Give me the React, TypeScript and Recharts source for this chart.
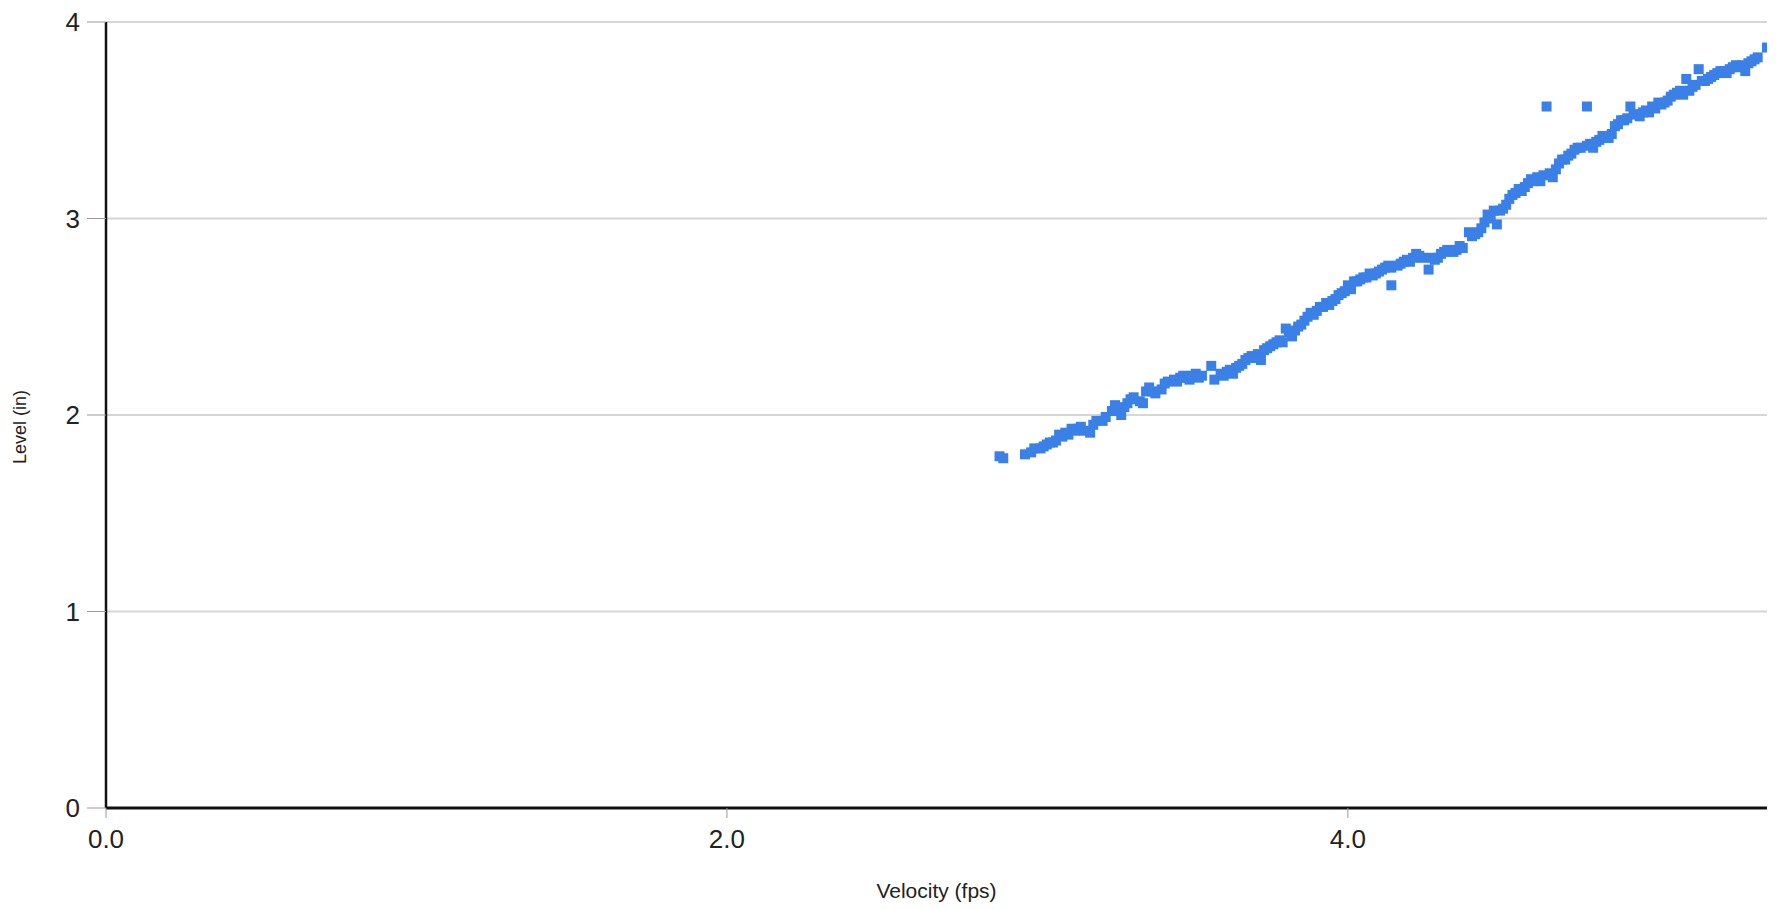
import { CartesianGrid, Label, Scatter, ScatterChart, XAxis, YAxis } from "recharts"

// velocity (fps) readings
const velocity = [
  2.878, 2.89, 2.96, 2.98, 2.99, 3.01, 3.03, 3.05, 3.06, 3.07, 3.09, 3.1, 3.11, 3.13, 3.15,
  3.17, 3.19, 3.21, 3.24, 3.25, 3.27, 3.28, 3.3, 3.33, 3.34, 3.35, 3.37, 3.4, 3.42, 3.45,
  3.46, 3.48, 3.5, 3.52, 3.53, 3.56, 3.57, 3.59, 3.61, 3.63, 3.64, 3.66, 3.67, 3.69, 3.71,
  3.72, 3.73, 3.75, 3.77, 3.79, 3.8, 3.82, 3.83, 3.85, 3.86, 3.88, 3.89, 3.91, 3.93, 3.94,
  3.96, 3.97, 3.99, 4.01, 4.02, 4.04, 4.06, 4.08, 4.1, 4.12, 4.14, 4.14, 4.16, 4.18, 4.2,
  4.22, 4.24, 4.26, 4.27, 4.29, 4.31, 4.33, 4.35, 4.37, 4.39, 4.4, 4.42, 4.44, 4.45, 4.47,
  4.48, 4.5, 4.53, 4.55, 4.57, 4.59, 4.61, 4.62, 4.64, 4.65, 4.66, 4.68, 4.7, 4.72, 4.74,
  4.77, 4.77, 4.79, 4.81, 4.83, 4.85, 4.86, 4.88, 4.9, 4.91, 4.93, 4.95, 4.97, 4.99, 5.0,
  5.02, 5.04, 5.06, 5.08, 5.09, 5.1, 5.12, 5.13, 5.15, 5.17, 5.19, 5.21, 5.23, 5.25, 5.27,
  5.28, 5.3, 5.32, 5.35,
  // second row of the band
  3.02, 3.04, 3.08, 3.12, 3.14, 3.18, 3.22, 3.26, 3.29, 3.31, 3.36, 3.38, 3.41, 3.44, 3.47,
  3.49, 3.51, 3.6, 3.62, 3.65, 3.68, 3.7, 3.74, 3.76, 3.78, 3.81, 3.84, 3.87, 3.9, 3.92,
  3.95, 3.98, 4.0, 4.03, 4.05, 4.07, 4.09, 4.11, 4.13, 4.17, 4.19, 4.21, 4.23, 4.28, 4.3,
  4.32, 4.34, 4.36, 4.41, 4.43, 4.46, 4.49, 4.51, 4.52, 4.54, 4.56, 4.58, 4.6, 4.63, 4.67,
  4.69, 4.71, 4.73, 4.75, 4.78, 4.8, 4.82, 4.84, 4.87, 4.89, 4.92, 4.94, 4.96, 4.98, 5.01,
  5.03, 5.05, 5.07, 5.11, 5.14, 5.16, 5.18, 5.2, 5.22, 5.24, 5.26, 5.29, 5.31,
]

// level (in) readings, same order as velocity
const level = [
  1.79, 1.78, 1.8, 1.81, 1.83, 1.83, 1.85, 1.86, 1.87, 1.9, 1.91, 1.9, 1.93, 1.93, 1.92,
  1.91, 1.97, 1.97, 2.02, 2.05, 2.0, 2.04, 2.08, 2.07, 2.06, 2.12, 2.12, 2.13, 2.17, 2.17,
  2.19, 2.19, 2.2, 2.19, 2.2, 2.25, 2.18, 2.21, 2.22, 2.21, 2.24, 2.26, 2.28, 2.3, 2.31,
  2.28, 2.33, 2.35, 2.37, 2.37, 2.44, 2.4, 2.43, 2.46, 2.48, 2.52, 2.51, 2.55, 2.57, 2.56,
  2.59, 2.61, 2.63, 2.64, 2.68, 2.69, 2.7, 2.71, 2.73, 2.75, 2.66, 2.75, 2.76, 2.78, 2.78,
  2.82, 2.8, 2.74, 2.8, 2.8, 2.83, 2.84, 2.84, 2.85, 2.93, 2.91, 2.93, 2.98, 3.02, 3.04,
  2.97, 3.05, 3.12, 3.15, 3.16, 3.2, 3.21, 3.19, 3.57, 3.23, 3.21, 3.28, 3.3, 3.33, 3.36,
  3.57, 3.37, 3.36, 3.4, 3.41, 3.43, 3.47, 3.5, 3.51, 3.57, 3.53, 3.54, 3.54, 3.56, 3.59,
  3.59, 3.62, 3.64, 3.63, 3.71, 3.65, 3.68, 3.76, 3.7, 3.72, 3.74, 3.75, 3.76, 3.78, 3.78,
  3.75, 3.8, 3.82, 3.87,
  // second row of the band
  1.84, 1.86, 1.89, 1.92, 1.94, 1.95, 1.99, 2.03, 2.06, 2.09, 2.14, 2.11, 2.16, 2.18, 2.2,
  2.18, 2.21, 2.2, 2.23, 2.25, 2.29, 2.29, 2.34, 2.36, 2.38, 2.42, 2.45, 2.5, 2.53, 2.55,
  2.58, 2.62, 2.66, 2.68, 2.7, 2.72, 2.72, 2.74, 2.76, 2.77, 2.79, 2.8, 2.81, 2.79, 2.82,
  2.84, 2.83, 2.86, 2.92, 2.95, 3.0, 3.04, 3.07, 3.1, 3.13, 3.14, 3.18, 3.19, 3.22, 3.25,
  3.3, 3.32, 3.35, 3.36, 3.38, 3.39, 3.42, 3.41, 3.48, 3.5, 3.53, 3.52, 3.55, 3.57, 3.58,
  3.6, 3.63, 3.65, 3.67, 3.7, 3.71, 3.73, 3.75, 3.74, 3.77, 3.77, 3.79, 3.81,
]

const xTicks = [0, 2, 4]
const yTicks = [0, 1, 2, 3, 4]

const points = velocity.map((v, i) => ({ velocity: v, level: level[i] }))

const font = "'Liberation Sans', Arial, sans-serif"
const blue = "#3a80e6"

function YTitle(props: any) {
  const vb = props.viewBox || { x: 0, y: 0, width: 0, height: 0 }
  const cx = vb.x + 20
  const cy = vb.y + vb.height / 2 + 12
  return (
    <text
      x={cx}
      y={cy}
      transform={`rotate(-90, ${cx}, ${cy})`}
      textAnchor="middle"
      dominantBaseline="central"
      fill="#222"
      fontSize={18}
      fontFamily={font}
    >
      Level (in)
    </text>
  )
}

// square marker, centred on the point recharts computed
function Square(props: any) {
  const { cx, cy } = props
  if (cx == null || cy == null) return null
  return <rect x={cx - 5} y={cy - 5} width={10} height={10} fill={blue} />
}

export default function App() {
  return (
    <div style={{ position: "absolute", left: 0, top: 0, width: 1782, height: 910, background: "#fff", fontFamily: font }}>
      <ScatterChart width={1782} height={910} margin={{ top: 22, right: 15, bottom: 12, left: 0 }}>
        <CartesianGrid vertical={false} stroke="#d6d6d6" strokeWidth={2} />
        <XAxis
          type="number"
          dataKey="velocity"
          domain={[0, 5.35]}
          ticks={xTicks}
          allowDataOverflow
          tickFormatter={(v: number) => v.toFixed(1)}
          height={90}
          axisLine={{ stroke: "#111", strokeWidth: 3 }}
          tickLine={{ stroke: "#999" }}
          tickSize={10}
          tickMargin={12}
          tick={{ fill: "#222", fontSize: 26, fontFamily: font }}
        >
          <Label value="Velocity (fps)" position="insideBottom" offset={0} fill="#222" fontSize={21} fontFamily={font} />
        </XAxis>
        <YAxis
          type="number"
          dataKey="level"
          domain={[0, 4]}
          ticks={yTicks}
          width={106}
          axisLine={{ stroke: "#111", strokeWidth: 2.5 }}
          tickLine={{ stroke: "#999" }}
          tickSize={19}
          tickMargin={7}
          tick={{ fill: "#222", fontSize: 26, fontFamily: font }}
        >
          <Label content={YTitle} />
        </YAxis>
        <Scatter data={points} shape={Square} fill={blue} isAnimationActive={false} />
      </ScatterChart>
    </div>
  )
}
